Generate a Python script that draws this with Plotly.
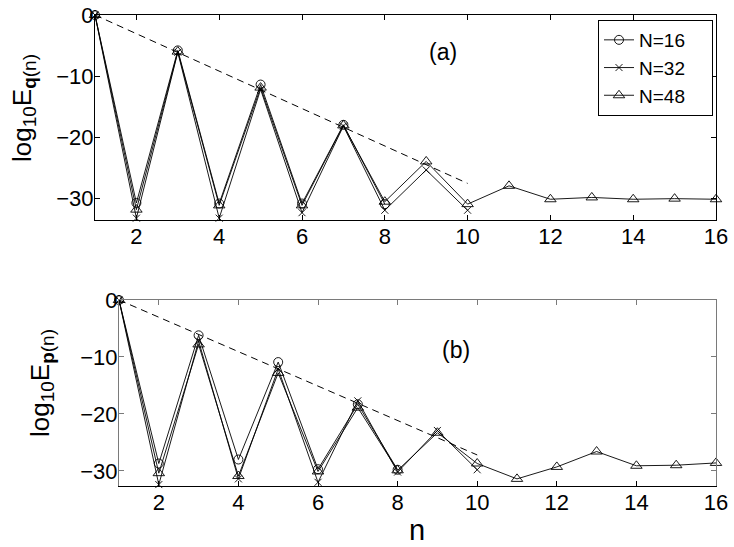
import plotly.graph_objects as go

# номера n для каждой серии
n16 = list(range(1, 9))
n32 = list(range(1, 11))
n48 = list(range(1, 17))

# (a) log10 E_q(n)
q16 = [0, -30.8, -5.8, -30.9, -11.4, -30.9, -18.0, -31.0]
q32 = [0, -33.3, -6.1, -33.3, -12.2, -32.4, -18.2, -32.0, -25.4, -32.0]
q48 = [0, -31.9, -6.0, -31.2, -11.9, -31.2, -18.1, -30.6, -24.0, -31.0,
       -28.0, -30.2, -29.9, -30.2, -30.1, -30.2]

# (b) log10 E_p(n)
p16 = [0, -28.7, -6.2, -28.0, -10.9, -29.7, -18.3, -29.8]
p32 = [0, -32.4, -7.2, -31.4, -12.1, -32.0, -17.7, -30.2, -22.9, -29.8]
p48 = [0, -30.4, -7.8, -30.9, -12.8, -30.1, -18.9, -29.9, -23.3, -28.7,
       -31.4, -29.3, -26.6, -29.1, -29.0, -28.6]

# пунктирные оценки
dash_n = [1, 10]
dash_q = [0, -27.6]
dash_p = [0, -27.2]

labels = ["N=16", "N=32", "N=48"]
symbols = ["circle-open", "x-thin-open", "triangle-up-open"]
sizes = [9, 7, 10]

FONT = "Liberation Sans, Arial, sans-serif"
SUB = '<sub><span style="font-size:19px">{}</span></sub>'
GRAY = "#7a7a7a"

fig = go.Figure()

panels = [
    ("x", "y", [q16, q32, q48], dash_q, True),
    ("x2", "y2", [p16, p32, p48], dash_p, False),
]
for xa, ya, series, dash_v, legend in panels:
    fig.add_trace(go.Scatter(
        x=dash_n, y=dash_v, xaxis=xa, yaxis=ya, mode="lines",
        line=dict(color="black", width=1, dash="7px,5px"),
        showlegend=False, hoverinfo="skip",
    ))
    for nn, vals, name, sym, sz in zip([n16, n32, n48], series, labels, symbols, sizes):
        fig.add_trace(go.Scatter(
            x=nn, y=vals, xaxis=xa, yaxis=ya, mode="lines+markers",
            name=name + "&nbsp;&nbsp;&nbsp;&nbsp;",
            line=dict(color="black", width=0.9),
            marker=dict(symbol=sym, size=sz, color="black",
                        line=dict(color="black", width=0.9)),
            showlegend=legend, cliponaxis=False,
        ))

# пустой след, чтобы нарисовалась верхняя (серая) рамка нижней панели
fig.add_trace(go.Scatter(x=[], y=[], xaxis="x3", yaxis="y2", mode="lines",
                         showlegend=False, hoverinfo="skip"))

ax_common = dict(
    showline=True, linecolor="black", linewidth=1, mirror="ticks",
    ticks="inside", ticklen=5, tickcolor="black", showgrid=False,
    zeroline=False, automargin=False,
    tickfont=dict(family=FONT, size=22, color="black"),
)
x_ticks = dict(tickvals=list(range(2, 17, 2)), range=[1, 16], ticklabelstandoff=-3)
y_ticks = dict(tickvals=[0, -10, -20, -30], ticklabelstandoff=-4)

ax_bottom_x = dict(ax_common, mirror=False)
ax_bottom_y = dict(ax_common, linecolor=GRAY, tickcolor=GRAY)
ax_bottom_top = dict(ax_common, mirror=False, linecolor=GRAY, tickcolor=GRAY)

fig.update_layout(
    width=734, height=547, autosize=False,
    margin=dict(l=0, r=0, t=0, b=0, pad=0, autoexpand=False),
    paper_bgcolor="white", plot_bgcolor="white",
    font=dict(family=FONT, color="black"),
    xaxis=dict(domain=[95 / 734, 716 / 734], anchor="y", **x_ticks, **ax_common),
    yaxis=dict(domain=[1 - 220 / 547, 1 - 15 / 547], range=[-33.6, 0],
               anchor="x", **y_ticks, **ax_common),
    xaxis2=dict(domain=[119 / 734, 716 / 734], anchor="y2", **x_ticks, **ax_bottom_x),
    xaxis3=dict(domain=[119 / 734, 716 / 734], anchor="y2", overlaying="x2", side="top",
                showticklabels=False, **x_ticks, **ax_bottom_top),
    yaxis2=dict(domain=[1 - 486 / 547, 1 - 300 / 547], range=[-32.65, 0],
                anchor="x2", **y_ticks, **ax_bottom_y),
    legend=dict(
        x=713 / 734, y=1 - 20 / 547, xanchor="right", yanchor="top",
        bgcolor="white", bordercolor="black", borderwidth=1,
        font=dict(family=FONT, size=19, color="black"),
        tracegroupgap=0, itemwidth=30,
    ),
)

notes = [
    ("(a)", 9.4, -6.1, "x", "y", 23, 0),
    ("(b)", 9.46, -8.7, "x2", "y2", 23, 0),
    ("n", 417 / 734, 1 - 530 / 547, "paper", "paper", 29, 0),
    ("log" + SUB.format("10") + "E" + SUB.format("<b>q</b>(n)"),
     24 / 734, 1 - 108 / 547, "paper", "paper", 26, -90),
    ("log" + SUB.format("10") + "E" + SUB.format("<b>p</b>(n)"),
     41 / 734, 1 - 383 / 547, "paper", "paper", 26, -90),
]
for text, ax, ay, xr, yr, size, angle in notes:
    fig.add_annotation(text=text, x=ax, y=ay, xref=xr, yref=yr,
                       xanchor="center", yanchor="middle", showarrow=False,
                       textangle=angle, font=dict(family=FONT, size=size))

# прижать график к левому верхнему углу страницы
pin = ("document.body.style.margin='0';document.body.style.overflow='hidden';"
       "var d=document.getElementById('{plot_id}');"
       "d.style.position='fixed';d.style.top='0px';d.style.left='0px';")
fig.write_html("out.html", config={"displayModeBar": False}, post_script=pin)
